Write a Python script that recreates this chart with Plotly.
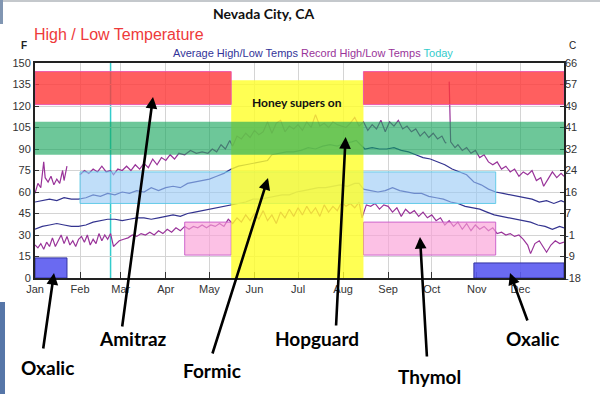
import plotly.graph_objects as go

YEAR = "2013"

# ---------------- data (degrees F) ----------------
rec_high_dates = ["01-01","01-03","01-05","01-07","01-08","01-10","01-12","01-14","01-16","01-18","01-20","01-21","01-23","01-27",
    "02-01","02-04","02-07","02-10","02-13","02-16","02-19","02-22","02-24","02-27","03-02","03-05","03-08","03-11","03-14","03-17",
    "03-20","03-23","03-26","03-29","04-01","04-04","04-07","04-10","04-14","04-18","04-22","04-26","04-30","05-03","05-06","05-09",
    "05-12","05-15","05-17","05-20","05-23","05-26","05-29","06-01","06-04","06-07","06-10","06-13","06-16","06-19","06-22","06-25",
    "06-28","07-01","07-04","07-07","07-10","07-13","07-16","07-19","07-22","07-25","07-28","07-31","08-03","08-06","08-09","08-12",
    "08-15","08-18","08-21","08-24","08-27","08-30","09-02","09-05","09-08","09-11","09-14","09-17","09-20","09-23","09-26","09-29",
    "10-02","10-05","10-08","10-10","10-11","10-12","10-13","10-14","10-17","10-19","10-22","10-25","10-28","10-31","11-03","11-06",
    "11-09","11-12","11-15","11-18","11-21","11-24","11-27","11-30","12-03","12-06","12-09","12-12","12-15","12-17","12-20","12-23",
    "12-26","12-29","12-31"]
rec_high_vals = [59,66,63,81,70,67,71,65,69,66,75,68,78,None,
    72,75,73,76,74,78,74,75,72,76,75,78,75,79,76,80,
    77,83,79,84,82,86,83,87,86,89,87,88,87,90,88,93,
    90,96,92,99,97,101,98,103,100,102,109,101,108,110,102,106,
    104,107,103,109,105,114,106,108,105,109,107,106,105,108,112,106,
    109,103,107,104,110,102,109,106,110,104,106,102,104,99,102,98,
    101,97,99,95,94,None,137,95,91,93,89,91,87,89,84,86,
    81,79,81,76,78,74,76,71,74,72,75,68,70,64,69,74,
    70,73,71]

avg_high_dates = ["01-01","01-06","01-11","01-16","01-21","01-26","01-31","02-05","02-10","02-15","02-20","02-25","03-02","03-07",
    "03-12","03-17","03-22","03-27","04-01","04-06","04-11","04-16","04-21","04-26","05-01","05-06","05-11","05-16","05-21","05-26",
    "05-31","06-05","06-10","06-13","06-18","06-23","06-28","07-03","07-08","07-13","07-18","07-23","07-28","08-02","08-07","08-10",
    "08-13","08-16","08-21","08-26","08-31","09-05","09-10","09-15","09-20","09-25","09-30","10-05","10-10","10-15","10-20","10-25",
    "10-30","11-04","11-09","11-14","11-19","11-24","11-29","12-04","12-09","12-14","12-19","12-24","12-29","12-31"]
avg_high_vals = [53,54,55,54,56,55,55,56,58,57,59,58,60,59,
    61,60,63,61,63,64,63,66,67,68,69,71,73,76,78,79,
    80,81,82,86,87,88,88,89,91,90,92,93,92,94,95,96,
    93,90,91,90,90,91,89,88,86,84,83,81,79,76,74,72,
    67,65,62,60,59,58,57,56,55,53,54,52,54,53]

avg_low_dates = ["01-01","01-06","01-11","01-16","01-21","01-26","01-31","02-05","02-10","02-15","02-20","02-25","03-02","03-07",
    "03-12","03-17","03-22","03-27","04-01","04-06","04-11","04-16","04-21","04-26","05-01","05-06","05-11","05-16","05-21","05-26",
    "05-31","06-05","06-10","06-15","06-20","06-25","06-30","07-05","07-10","07-15","07-20","07-25","07-30","08-04","08-09","08-12",
    "08-15","08-20","08-25","08-30","09-04","09-09","09-14","09-19","09-24","09-29","10-04","10-09","10-14","10-19","10-24","10-29",
    "11-03","11-08","11-13","11-18","11-23","11-28","12-03","12-08","12-13","12-18","12-23","12-28","12-31"]
avg_low_vals = [34,36,37,38,37,36,36,37,39,40,41,41,40,41,
    42,42,41,42,43,44,43,45,46,47,48,49,50,51,52,53,
    55,55,56,57,58,58,60,61,62,63,63,64,65,64,66,66,
    62,61,60,61,63,61,60,59,59,57,56,55,53,52,50,49,
    48,46,44,43,42,41,40,39,37,36,34,36,35]

rec_low_dates = ["01-01","01-03","01-05","01-07","01-09","01-11","01-13","01-15","01-17","01-19","01-21","01-23","01-25","01-27",
    "01-29","01-31","02-02","02-04","02-06","02-08","02-10","02-12","02-14","02-16","02-18","02-20","02-22","02-24","02-26","02-28",
    "03-03","03-06","03-09","03-12","03-15","03-18","03-21","03-24","03-27","03-30","04-02","04-05","04-08","04-11","04-14","04-17",
    "04-20","04-23","04-26","04-29","05-02","05-05","05-08","05-11","05-14","05-17","05-20","05-23","05-26","05-29","06-01","06-04",
    "06-07","06-10","06-13","06-16","06-19","06-22","06-25","06-28","07-01","07-04","07-07","07-10","07-13","07-16","07-19","07-22",
    "07-25","07-28","07-31","08-03","08-06","08-09","08-12","08-14","08-17","08-20","08-23","08-26","08-29","09-01","09-04","09-07",
    "09-10","09-13","09-16","09-19","09-22","09-25","09-28","10-01","10-04","10-07","10-10","10-13","10-16","10-19","10-22","10-25",
    "10-28","10-31","11-03","11-06","11-09","11-12","11-15","11-18","11-21","11-24","11-27","11-30","12-03","12-06","12-08","12-11",
    "12-14","12-17","12-19","12-22","12-25","12-28","12-31"]
rec_low_vals = [23,21,24,20,25,22,28,22,26,30,24,29,23,26,
    22,27,29,25,30,23,27,24,31,26,30,27,31,22,24,26,
    27,28,30,29,31,30,32,30,33,31,34,32,35,33,36,34,
    36,35,37,35,37,36,38,36,41,38,42,39,44,40,45,41,
    47,40,44,38,46,42,48,43,49,44,50,45,49,43,51,46,
    50,47,53,50,52,49,53,42,51,50,52,48,51,50,46,49,
    43,48,45,47,43,46,42,44,40,42,37,40,36,39,34,38,
    33,37,34,36,33,35,31,32,30,31,29,30,27,23,17,24,
    26,21,18,23,26,24,25]

# treatment bands: (start, end, low F, high F)
band_amitraz = [("01-01", "05-16", 121, 144), ("08-15", "12-31", 121, 144)]
band_honey = [("05-16", "08-15", 0, 138)]
band_hopguard = [("01-01", "12-31", 86, 109)]
band_formic = [("02-01", "11-14", 52, 74)]
band_thymol = [("04-14", "05-16", 16, 39), ("08-15", "11-14", 16, 39)]
band_oxalic = [("01-01", "01-23", 0, 14), ("10-30", "12-31", 0, 10.5)]
today = "02-22"

f_ticks = [0, 15, 30, 45, 60, 75, 90, 105, 120, 135, 150]
c_ticks = ["-18", "-9", "-1", "7", "16", "24", "32", "41", "49", "57", "66"]

# ---------------- figure ----------------
def d(s):
    return YEAR + "-" + s

W, H = 600, 394
L, R, T, B = 35, 564, 63, 278

def px(xp):
    return (xp - L) / (R - L)

def py(yp):
    return (B - yp) / (B - T)

NARROW = "Liberation Sans Narrow, Arial Narrow, Liberation Sans, Arial, sans-serif"
ARIAL = "Liberation Sans, Arial, sans-serif"
BOLD = "Lato, Open Sans, sans-serif"

NAVY = "#33338f"
PURPLE = "#993399"

fig = go.Figure()
series = [
    (rec_high_dates, rec_high_vals, PURPLE),
    (avg_high_dates, avg_high_vals, NAVY),
    (avg_low_dates, avg_low_vals, NAVY),
    (rec_low_dates, rec_low_vals, PURPLE),
]
for ds, vs, col in series:
    fig.add_trace(go.Scatter(x=[d(s) for s in ds], y=vs, mode="lines",
                             line=dict(color=col, width=1.2), connectgaps=False,
                             showlegend=False, hoverinfo="skip"))
# invisible trace on the right (Celsius) axis
fig.add_trace(go.Scatter(x=[d(s) for s in avg_low_dates], y=avg_low_vals, yaxis="y2",
                         mode="lines", line=dict(width=0), opacity=0,
                         showlegend=False, hoverinfo="skip"))

shapes = []
shapes.append(dict(type="line", xref="x", yref="paper", x0=d(today), x1=d(today), y0=0, y1=1,
                   line=dict(color="#33cccc", width=1.5), layer="below"))

def add_bands(bands, fill, border, bw=1):
    for a, b, lo, hi in bands:
        shapes.append(dict(type="rect", xref="x", yref="y", x0=d(a), x1=d(b), y0=lo, y1=hi,
                           fillcolor=fill, line=dict(color=border, width=bw), layer="above"))

add_bands(band_formic, "rgba(150,200,245,0.6)", "rgba(90,200,230,0.9)")
add_bands(band_thymol, "rgba(250,160,215,0.65)", "rgba(200,90,200,0.9)")
add_bands(band_honey, "rgba(255,255,40,0.8)", "rgba(255,255,40,0)", 0)
add_bands(band_hopguard, "rgba(20,165,90,0.62)", "rgba(20,165,90,0)", 0)
add_bands(band_amitraz, "rgba(255,55,55,0.8)", "rgba(235,80,170,0.9)")
add_bands(band_oxalic, "rgba(90,90,240,0.9)", "rgba(50,50,160,1)")

# frame decorations of the screenshot
shapes.append(dict(type="rect", xref="paper", yref="paper", x0=px(0), x1=px(600), y0=py(0), y1=py(2),
                   fillcolor="#c4c8cc", line=dict(width=0), layer="above"))
shapes.append(dict(type="rect", xref="paper", yref="paper", x0=px(0), x1=px(3), y0=py(0), y1=py(24),
                   fillcolor="#8196b2", line=dict(width=0), layer="above"))
shapes.append(dict(type="rect", xref="paper", yref="paper", x0=px(0), x1=px(5), y0=py(302), y1=py(394),
                   fillcolor="#5676a8", line=dict(width=0), layer="above"))

ann = []

def text_ann(text, x, y, font, xanchor="center"):
    ann.append(dict(text=text, x=px(x), y=py(y), xref="paper", yref="paper",
                    xanchor=xanchor, yanchor="middle", showarrow=False, font=font))

text_ann("<b>Nevada City, CA</b>", 263, 14, dict(family=BOLD, size=14, color="#111"))
text_ann("High / Low Temperature", 32, 35, dict(family=ARIAL, size=16, color="#ee3a3a"), "left")
text_ann("<b>F</b>", 24, 45, dict(family=ARIAL, size=10, color="#222"))
text_ann("C", 572, 45, dict(family=ARIAL, size=10, color="#222"))
legend_txt = ('<span style="color:#333399">Average High/Low Temps</span> '
              '<span style="color:#993399">Record High/Low Temps</span> '
              '<span style="color:#33cccc">Today</span>')
text_ann(legend_txt, 455, 53, dict(family=NARROW, size=11), "right")
text_ann("<b>Honey supers on</b>", 297, 102, dict(family=BOLD, size=12, color="#111"))

labels = [("Oxalic", 47, 367), ("Amitraz", 133, 338), ("Formic", 212, 370),
          ("Hopguard", 317, 338), ("Thymol", 429, 376), ("Oxalic", 532, 338)]
for t, x, y in labels:
    text_ann("<b>" + t + "</b>", x, y, dict(family=BOLD, size=19, color="#000"))

arrows = [((54, 273), (43, 350)), ((153, 97), (122, 328)), ((268, 178), (212, 355)),
          ((345.6, 137), (336, 327)), ((420, 237), (427, 358)), ((510, 273), (528, 322))]
for (tx, ty), (sx, sy) in arrows:
    ann.append(dict(text="", x=px(tx), y=py(ty), xref="paper", yref="paper",
                    ax=sx - tx, ay=sy - ty, showarrow=True, arrowhead=2, arrowsize=0.9,
                    arrowwidth=2.6, arrowcolor="#000"))

fig.update_layout(
    width=W, height=H,
    margin=dict(l=L, r=W - R, t=T, b=H - B, pad=0),
    paper_bgcolor="white", plot_bgcolor="white",
    showlegend=False,
    shapes=shapes, annotations=ann,
    xaxis=dict(type="date", range=[d("01-01"), d("12-31")],
               tick0=d("01-01"), dtick="M1", tickformat="%b",
               showgrid=True, gridcolor="#d4d4d4", gridwidth=1,
               showline=True, linecolor="#222", linewidth=2, mirror=True,
               ticks="inside", ticklen=6, tickcolor="#333",
               tickfont=dict(family=NARROW, size=11, color="#333"), zeroline=False),
    yaxis=dict(range=[0, 150], tickvals=f_ticks, ticktext=[str(v) for v in f_ticks],
               showgrid=True, gridcolor="#d4d4d4", gridwidth=1,
               showline=True, linecolor="#222", linewidth=2, mirror=True,
               ticks="inside", ticklen=4, tickcolor="#333",
               tickfont=dict(family=NARROW, size=11, color="#333"), zeroline=False),
    yaxis2=dict(range=[0, 150], overlaying="y", side="right", tickvals=f_ticks, ticktext=c_ticks,
                showgrid=False, showline=False, ticks="inside", ticklen=4, tickcolor="#333",
                tickfont=dict(family=NARROW, size=11, color="#333"), zeroline=False),
)

fig.write_html("out.html", config={"displayModeBar": False},
               post_script="document.body.style.margin='0';document.body.style.overflow='hidden';")
